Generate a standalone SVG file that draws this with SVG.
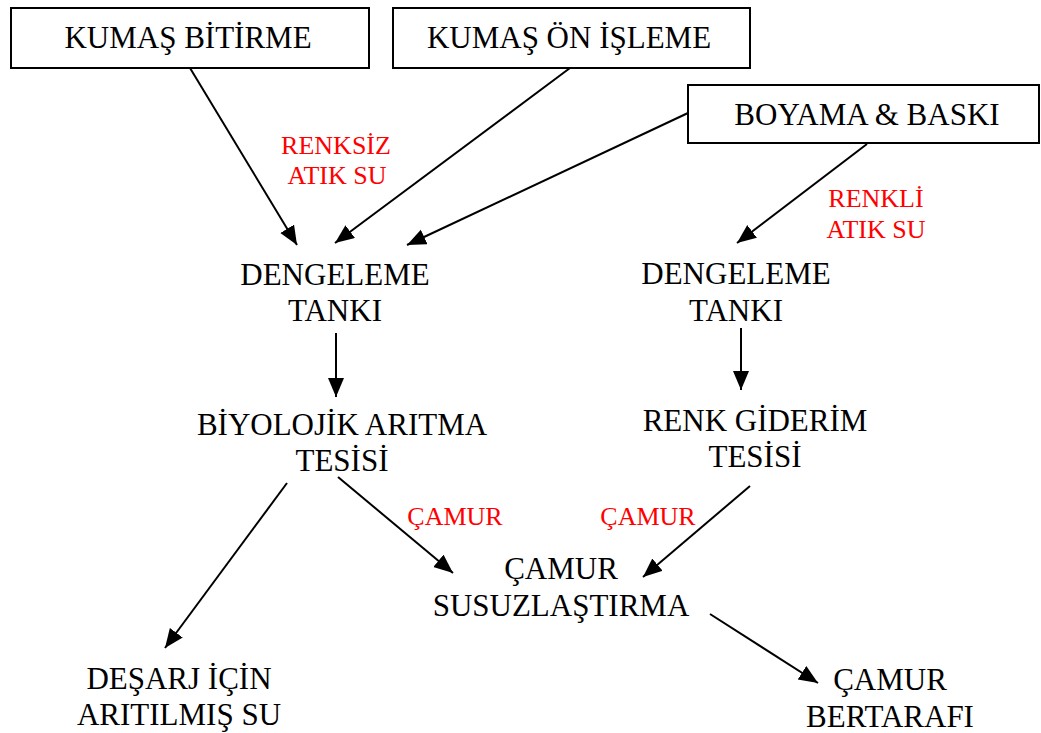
<svg xmlns="http://www.w3.org/2000/svg" width="1041" height="733" viewBox="0 0 1041 733">
<style>
.box{fill:#fff;stroke:#000;stroke-width:2}
.t{font-family:'Liberation Serif','Times New Roman',serif;font-size:31px;fill:#000;text-anchor:middle}
.r{font-family:'Liberation Serif','Times New Roman',serif;font-size:26px;fill:#ff0000;text-anchor:middle}
.c{stroke:#000;stroke-width:2;fill:none;marker-end:url(#ah)}
</style>
<defs>
<marker id="ah" markerUnits="userSpaceOnUse" markerWidth="20" markerHeight="18" refX="19" refY="8" orient="auto">
<path d="M0,0 L19,8 L0,16 z" fill="#000"/>
</marker>
</defs>
<rect width="1041" height="733" fill="#fff"/>
<g id="connectors">
<line class="c" x1="190" y1="68" x2="297" y2="245"/>
<line class="c" x1="570" y1="68" x2="335" y2="243"/>
<line class="c" x1="688" y1="113" x2="407" y2="245"/>
<line class="c" x1="867" y1="144" x2="737" y2="243"/>
<line class="c" x1="336" y1="333" x2="336" y2="397"/>
<line class="c" x1="741" y1="328" x2="741" y2="390"/>
<line class="c" x1="287" y1="483" x2="165" y2="648"/>
<line class="c" x1="338" y1="477" x2="453" y2="573"/>
<line class="c" x1="750" y1="486" x2="643" y2="577"/>
<line class="c" x1="710" y1="614" x2="818" y2="683"/>
</g>
<g id="n_bitirme">
<rect class="box" x="11" y="8" width="358" height="60"/>
<text class="t" x="188" y="48">KUMAŞ BİTİRME</text>
</g>
<g id="n_onisleme">
<rect class="box" x="393" y="8" width="357" height="60"/>
<text class="t" x="569" y="48">KUMAŞ ÖN İŞLEME</text>
</g>
<g id="n_boyama">
<rect class="box" x="688" y="85" width="351" height="58"/>
<text class="t" x="867" y="125">BOYAMA &amp; BASKI</text>
</g>
<g id="l_renksiz">
<text class="r" x="336" y="154">RENKSİZ</text>
<text class="r" x="337" y="184">ATIK SU</text>
</g>
<g id="l_renkli">
<text class="r" x="876" y="207">RENKLİ</text>
<text class="r" x="876" y="238">ATIK SU</text>
</g>
<g id="n_dengeleme1">
<text class="t" x="335" y="285">DENGELEME</text>
<text class="t" x="335" y="321">TANKI</text>
</g>
<g id="n_dengeleme2">
<text class="t" x="736" y="284">DENGELEME</text>
<text class="t" x="736" y="321">TANKI</text>
</g>
<g id="n_biyolojik">
<text class="t" x="342" y="435">BİYOLOJİK ARITMA</text>
<text class="t" x="342" y="471">TESİSİ</text>
</g>
<g id="n_renkgiderim">
<text class="t" x="755" y="431">RENK GİDERİM</text>
<text class="t" x="755" y="467">TESİSİ</text>
</g>
<g id="l_camur1">
<text class="r" x="455" y="525">ÇAMUR</text>
</g>
<g id="l_camur2">
<text class="r" x="648" y="525">ÇAMUR</text>
</g>
<g id="n_susuzlastirma">
<text class="t" x="561" y="579">ÇAMUR</text>
<text class="t" x="561" y="616">SUSUZLAŞTIRMA</text>
</g>
<g id="n_desarj">
<text class="t" x="179" y="689">DEŞARJ İÇİN</text>
<text class="t" x="179" y="725">ARITILMIŞ SU</text>
</g>
<g id="n_bertaraf">
<text class="t" x="890" y="690">ÇAMUR</text>
<text class="t" x="890" y="727">BERTARAFI</text>
</g>
</svg>
